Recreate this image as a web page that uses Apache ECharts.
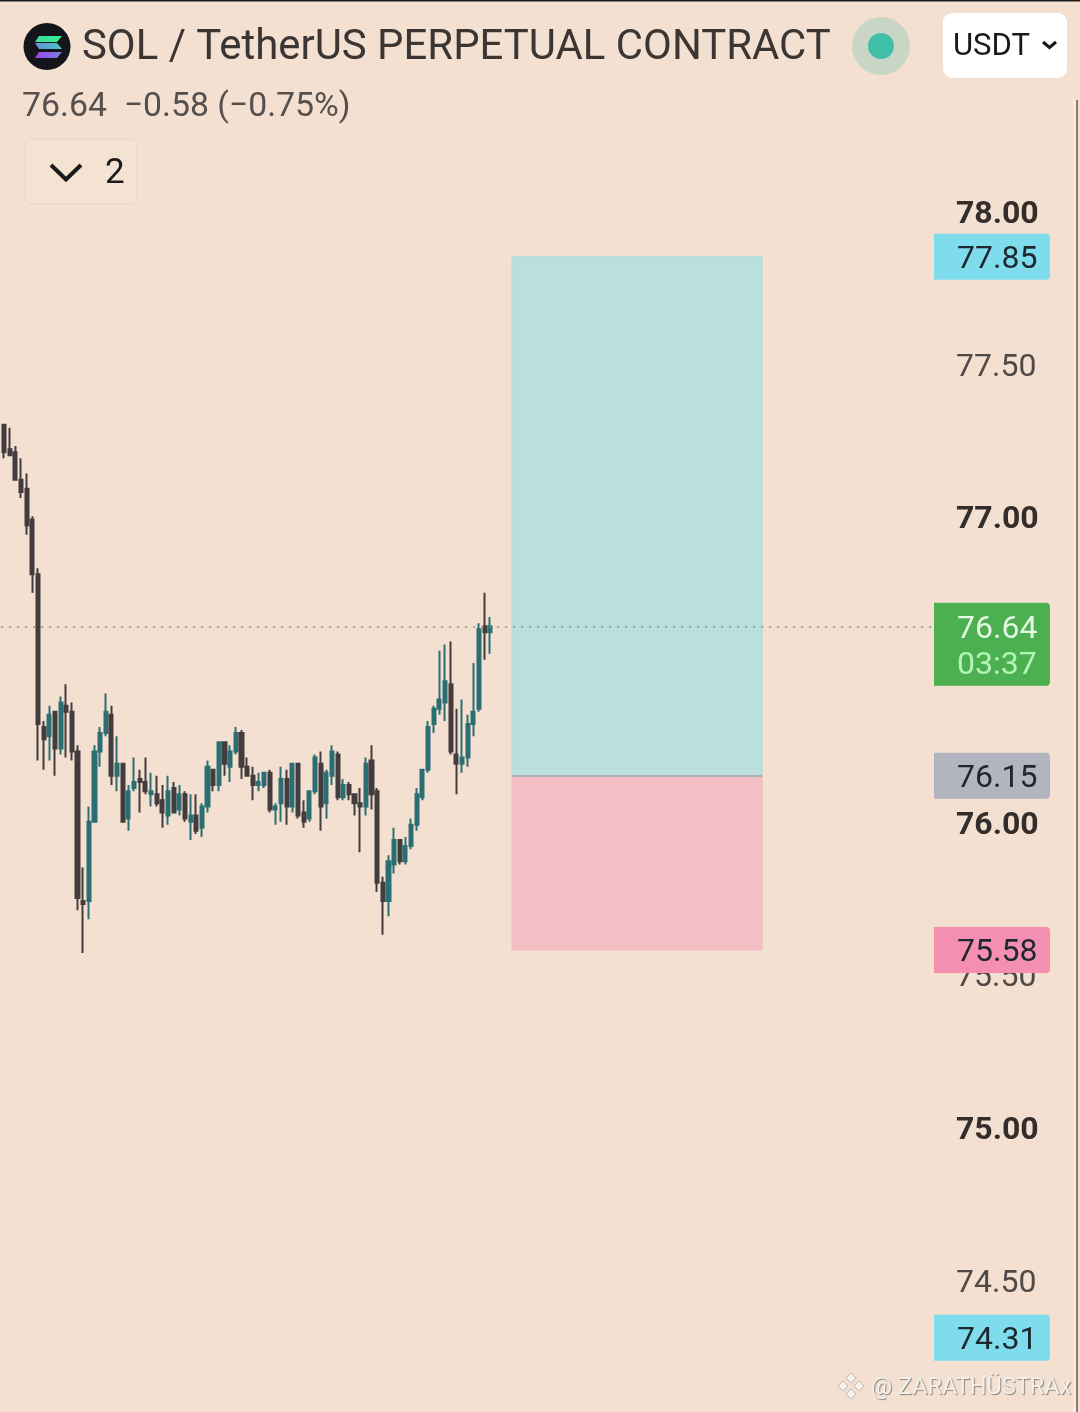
<!DOCTYPE html>
<html><head><meta charset="utf-8">
<style>html,body{margin:0;padding:0;background:#f3e0d0}#c{width:1080px;height:1412px}</style>
<script src="https://cdn.jsdelivr.net/npm/echarts@6/dist/echarts.min.js"></script>
</head><body><div id="c"></div>
<script>
// [open, close, low, high]
const candles = [
[77.30,77.21,77.19,77.30],[77.22,77.20,77.20,77.29],[77.21,77.12,77.12,77.23],[77.12,77.08,77.06,77.19],
[77.09,76.97,76.94,77.14],[76.99,76.81,76.75,77.00],[76.81,76.32,76.20,76.83],[76.31,76.27,76.17,76.33],
[76.28,76.35,76.20,76.38],[76.36,76.24,76.15,76.36],[76.24,76.39,76.22,76.41],[76.38,76.36,76.21,76.45],
[76.36,76.23,76.20,76.39],[76.23,75.75,75.71,76.25],[75.74,75.73,75.57,75.85],[75.74,76.00,75.68,76.05],
[76.00,76.23,76.00,76.25],[76.23,76.29,76.18,76.31],[76.29,76.36,76.28,76.42],[76.35,76.15,76.12,76.38],
[76.15,76.19,76.10,76.28],[76.19,76.00,76.00,76.19],[76.01,76.10,75.97,76.12],[76.11,76.13,76.10,76.21],
[76.14,76.13,76.03,76.17],[76.13,76.10,76.09,76.21],[76.09,76.10,76.05,76.16],[76.09,76.06,76.05,76.15],
[76.07,76.03,75.98,76.12],[76.02,76.10,75.99,76.15],[76.11,76.03,76.03,76.13],[76.04,76.09,76.02,76.12],
[76.09,76.01,76.00,76.10],[76.00,76.02,75.94,76.09],[76.02,75.97,75.96,76.09],[75.98,76.05,75.95,76.06],
[76.05,76.18,76.03,76.20],[76.17,76.12,76.10,76.17],[76.12,76.26,76.10,76.26],[76.26,76.19,76.15,76.26],
[76.18,76.23,76.13,76.25],[76.23,76.29,76.22,76.31],[76.29,76.18,76.14,76.30],[76.18,76.15,76.15,76.21],
[76.15,76.12,76.07,76.18],[76.12,76.13,76.10,76.16],[76.12,76.16,76.11,76.16],[76.16,76.04,76.03,76.17],
[76.04,76.05,75.99,76.06],[76.06,76.14,76.00,76.18],[76.14,76.05,75.99,76.17],[76.05,76.19,76.03,76.19],
[76.19,76.02,76.01,76.19],[76.03,76.00,75.98,76.07],[76.01,76.10,76.00,76.10],[76.10,76.21,76.09,76.22],
[76.19,76.05,75.97,76.23],[76.06,76.16,76.01,76.17],[76.15,76.23,76.12,76.25],[76.22,76.08,76.07,76.23],
[76.08,76.12,76.07,76.14],[76.12,76.09,76.07,76.13],[76.09,76.06,76.02,76.09],[76.06,76.05,75.90,76.11],
[76.05,76.19,76.02,76.21],[76.20,76.09,76.04,76.25],[76.10,75.80,75.77,76.11],[75.80,75.74,75.63,75.82],
[75.74,75.87,75.69,75.89],[75.86,75.94,75.83,75.98],[75.94,75.87,75.86,75.94],[75.87,75.92,75.86,75.95],
[75.92,75.99,75.91,76.01],[75.99,76.09,75.97,76.11],[76.08,76.17,76.07,76.17],[76.17,76.31,76.16,76.33],
[76.32,76.37,76.29,76.38],[76.37,76.40,76.35,76.56],[76.39,76.46,76.33,76.58],[76.45,76.23,76.22,76.59],
[76.22,76.19,76.09,76.37],[76.19,76.21,76.16,76.40],[76.21,76.32,76.18,76.35],[76.32,76.36,76.28,76.52],
[76.37,76.63,76.36,76.65],[76.64,76.62,76.53,76.75],[76.62,76.64,76.55,76.67]
];
const slotCount = 165;
const categories = Array.from({length: slotCount}, (_, i) => String(i));
const priceTicks = { min: 74.25, max: 78.25, step: 0.25 };
const lastPrice = 76.64;
const countdown = '03:37';
const targetHigh = 77.85, entry = 76.15, stop = 75.58, targetLow = 74.31;
const zoneSlots = [90.36, 134.58];

const FONT = 'Roboto';
const bg = '#f3e0d0';
const tag = (value, color, text) => ({
  yAxis: value,
  lineStyle: { color: 'rgba(0,0,0,0)', width: 0 },
  label: {
    show: true, position: 'end', distance: 0, formatter: `{t|${text}}`,
    backgroundColor: color, borderRadius: [0, 4, 4, 0],
    width: 93, height: 46, padding: [0, 0, 0, 23], align: 'left',
    rich: { t: { color: '#1d2730', fontFamily: FONT, fontSize: 32, lineHeight: 46, padding: [6, 0, 0, 0] } }
  }
});

const chart = echarts.init(document.getElementById('c'), null, { renderer: 'canvas', width: 1080, height: 1412 });
chart.setOption({
  animation: false,
  backgroundColor: bg,
  grid: { left: 1.2, top: 134.67, width: 932.8, height: 1221.33, containLabel: false },
  xAxis: [
    { type: 'category', data: categories, show: false },
    { type: 'value', min: 0, max: slotCount, show: false }
  ],
  yAxis: {
    type: 'value', position: 'right', min: priceTicks.min, max: priceTicks.max, interval: priceTicks.step,
    axisLine: { show: false }, axisTick: { show: false }, splitLine: { show: false },
    axisLabel: {
      margin: 22, align: 'left', fontFamily: FONT, fontSize: 32,
      formatter: v => {
        if (Math.abs(v * 2 - Math.round(v * 2)) > 1e-6) return '';
        return Number.isInteger(v) ? `{b|${v.toFixed(2)}}` : `{r|${v.toFixed(2)}}`;
      },
      rich: {
        b: { fontFamily: FONT, fontSize: 32, fontWeight: 700, color: '#332d2b', padding: [8, 0, 0, 0] },
        r: { fontFamily: FONT, fontSize: 32, fontWeight: 400, color: '#4f4a48', padding: [8, 0, 0, 0] }
      }
    }
  },
  series: [
    {
      type: 'line', xAxisIndex: 1, yAxisIndex: 0, data: [], silent: true, z: 1,
      markArea: {
        silent: true,
        data: [
          [{ coord: [zoneSlots[0], targetHigh], itemStyle: { color: '#b9e0de', borderColor: '#aed9d6', borderWidth: 1 } },
           { coord: [zoneSlots[1], entry] }],
          [{ coord: [zoneSlots[0], entry], itemStyle: { color: '#f4bfc4', borderColor: '#f1b8bf', borderWidth: 1 } },
           { coord: [zoneSlots[1], stop] }]
        ]
      },
      markLine: {
        silent: true, symbol: 'none', animation: false,
        data: [[
          { coord: [zoneSlots[0], entry], lineStyle: { color: '#adb0b8', width: 2, type: 'solid' }, label: { show: false } },
          { coord: [zoneSlots[1], entry] }
        ]]
      }
    },
    {
      type: 'candlestick', data: candles, z: 3, barWidth: 3.6, silent: true,
      itemStyle: { color: '#2a6f73', color0: '#433c3e', borderColor: '#2a6f73', borderColor0: '#433c3e', borderWidth: 2 },
      markLine: {
        silent: true, symbol: 'none', animation: false, precision: 2,
        data: [
          { yAxis: lastPrice, lineStyle: { color: '#7a9686', width: 1.5, type: [2, 6] },
            label: {
              show: true, position: 'end', distance: 0, offset: [0, 18],
              formatter: `{a|${lastPrice.toFixed(2)}}\n{c|${countdown}}`,
              backgroundColor: '#4caf50', borderRadius: [0, 4, 4, 0],
              width: 93, height: 78, padding: [5, 0, 0, 23], align: 'left',
              rich: {
                a: { fontFamily: FONT, fontSize: 32, color: '#e3f9e3', lineHeight: 37, padding: [7, 0, 0, 0] },
                c: { fontFamily: FONT, fontSize: 32, color: '#b6f5b8', lineHeight: 37, padding: [5, 0, 0, 0] }
              }
            } },
          tag(targetHigh, '#7fdcec', targetHigh.toFixed(2)),
          tag(entry, '#b2b5c0', entry.toFixed(2)),
          tag(stop, '#f48fb1', stop.toFixed(2)),
          tag(targetLow, '#7fdcec', targetLow.toFixed(2))
        ]
      }
    }
  ],
  graphic: [
    { type: 'rect', shape: { x: 0, y: 0, width: 1080, height: 1.5 }, style: { fill: '#1c1c1c' }, silent: true },
    { type: 'rect', shape: { x: 1073, y: 100, width: 3, height: 1312 }, style: { fill: '#f8eadc' }, silent: true },
    { type: 'rect', shape: { x: 1076, y: 100, width: 2, height: 1312 }, style: { fill: '#8a7d76' }, silent: true },
    // logo
    { type: 'circle', shape: { cx: 47, cy: 46.5, r: 23.5 }, style: { fill: '#14151a' } },
    { type: 'polygon', shape: { points: [[39, 36], [62, 36], [57, 42], [35, 42]] },
      style: { fill: new echarts.graphic.LinearGradient(0, 0, 1, 0, [{ offset: 0, color: '#3fd9a5' }, { offset: 1, color: '#2ef28f' }]) } },
    { type: 'polygon', shape: { points: [[35, 43], [57, 43], [62, 49], [39, 49]] },
      style: { fill: new echarts.graphic.LinearGradient(0, 0, 1, 0, [{ offset: 0, color: '#6a8fd8' }, { offset: 1, color: '#45c9c0' }]) } },
    { type: 'polygon', shape: { points: [[39, 52], [62, 52], [57, 58], [35, 58]] },
      style: { fill: new echarts.graphic.LinearGradient(0, 0, 1, 0, [{ offset: 0, color: '#9a45f0' }, { offset: 1, color: '#7f7fd8' }]) } },
    // header text
    { type: 'text', x: 82, y: 49, style: { text: 'SOL / TetherUS PERPETUAL CONTRACT', fill: '#3b3533', font: '400 41.9px Roboto', textVerticalAlign: 'middle' } },
    { type: 'text', x: 22, y: 108, style: { text: '76.64  \u22120.58 (\u22120.75%)', fill: '#55504e', font: '400 33.8px Roboto', textVerticalAlign: 'middle' } },
    // status dot
    { type: 'circle', shape: { cx: 881, cy: 46, r: 29 }, style: { fill: '#c9d6c6' } },
    { type: 'circle', shape: { cx: 881, cy: 46, r: 13 }, style: { fill: '#40bfa8' } },
    // USDT button
    { type: 'rect', shape: { x: 943, y: 13, width: 124, height: 65, r: 9 }, style: { fill: '#ffffff' } },
    { type: 'text', x: 953, y: 47, style: { text: 'USDT', fill: '#1a1a1a', font: '400 31px Roboto', textVerticalAlign: 'middle' } },
    { type: 'polyline', shape: { points: [[1043, 42], [1049.5, 47.5], [1056, 42]] }, style: { stroke: '#1a1a1a', lineWidth: 3, fill: null } },
    // collapse box
    { type: 'rect', shape: { x: 25, y: 139, width: 112, height: 65, r: 6 }, style: { fill: '#f4e2d3', stroke: '#ecdccd', lineWidth: 2 } },
    { type: 'polyline', shape: { points: [[51, 165], [66, 179.5], [81, 165]] }, style: { stroke: '#1a1a1a', lineWidth: 4, fill: null } },
    { type: 'text', x: 105, y: 174, style: { text: '2', fill: '#1a1a1a', font: '400 35px Roboto', textVerticalAlign: 'middle' } },
    // watermark
    { type: 'group', x: 851, y: 1386, children: [
      { type: 'polygon', shape: { points: [[0, -13], [5, -8], [0, -3], [-5, -8]] }, style: { fill: '#f9f3ec', stroke: '#bdb6af', lineWidth: 1 } },
      { type: 'polygon', shape: { points: [[0, 13], [5, 8], [0, 3], [-5, 8]] }, style: { fill: '#f9f3ec', stroke: '#bdb6af', lineWidth: 1 } },
      { type: 'polygon', shape: { points: [[-13, 0], [-8, -5], [-3, 0], [-8, 5]] }, style: { fill: '#f9f3ec', stroke: '#bdb6af', lineWidth: 1 } },
      { type: 'polygon', shape: { points: [[13, 0], [8, -5], [3, 0], [8, 5]] }, style: { fill: '#f9f3ec', stroke: '#bdb6af', lineWidth: 1 } }
    ] },
    { type: 'text', x: 871, y: 1388, style: { text: '@ ZARATH\u00dcSTRAx', fill: '#f5efe8', font: '400 23.5px Roboto', textVerticalAlign: 'middle', textShadowColor: '#8a8580', textShadowBlur: 1, textShadowOffsetX: 1, textShadowOffsetY: 1 } }
  ]
});
</script></body></html>
